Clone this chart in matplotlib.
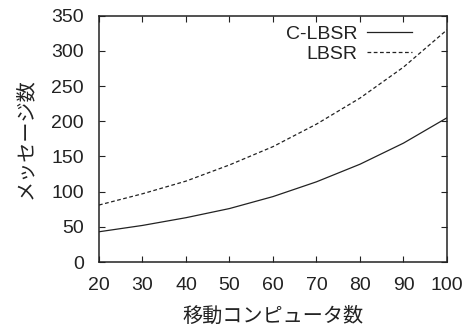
import matplotlib
matplotlib.use("Agg")
import matplotlib.pyplot as plt

plt.rcParams['font.family'] = ['Liberation Sans', 'Noto Sans CJK JP', 'DejaVu Sans']

x_values = [20, 30, 40, 50, 60, 70, 80, 90, 100]
c_lbsr = [43, 52, 63, 76, 93, 114, 139, 169, 205]
lbsr = [81, 97, 115, 138, 164, 196, 233, 277, 330]

x_ticks = [20, 30, 40, 50, 60, 70, 80, 90, 100]
y_ticks = [0, 50, 100, 150, 200, 250, 300, 350]

TXT = '#222222'
fig = plt.figure(figsize=(4.7, 3.29), dpi=100)
ax = fig.add_axes([0.2106, 0.2036, 0.951 - 0.2106, 0.952 - 0.2036])

ax.plot(x_values, c_lbsr, color=TXT, lw=0.9, label='C-LBSR')
ax.plot(x_values, lbsr, color=TXT, lw=0.9, ls=(0, (3, 2)), label='LBSR')

ax.set_xlim(20, 100)
ax.set_ylim(0, 350)
ax.set_xticks(x_ticks)
ax.set_yticks(y_ticks)
ax.tick_params(direction='in', top=True, right=True, length=4, width=0.8,
               labelsize=14, colors=TXT)
ax.tick_params(axis='x', pad=11)
ax.tick_params(axis='y', pad=11)
for s in ax.spines.values():
    s.set_linewidth(1.1)
    s.set_color(TXT)

cjk = ['Noto Sans CJK JP', 'DejaVu Sans']
ax.set_xlabel('移動コンピュータ数', fontsize=14.5, family=cjk, labelpad=8, color=TXT)
ax.set_ylabel('メッセージ数', fontsize=14.5, family=cjk, labelpad=11, color=TXT)

leg = ax.legend(loc='upper right', frameon=False, fontsize=14, markerfirst=False,
                handlelength=2.3, handletextpad=0.5, labelspacing=0.15,
                borderpad=0, borderaxespad=0, bbox_to_anchor=(0.899, 0.962))
for t in leg.get_texts():
    t.set_color(TXT)

fig.savefig('out.png', dpi=100)
